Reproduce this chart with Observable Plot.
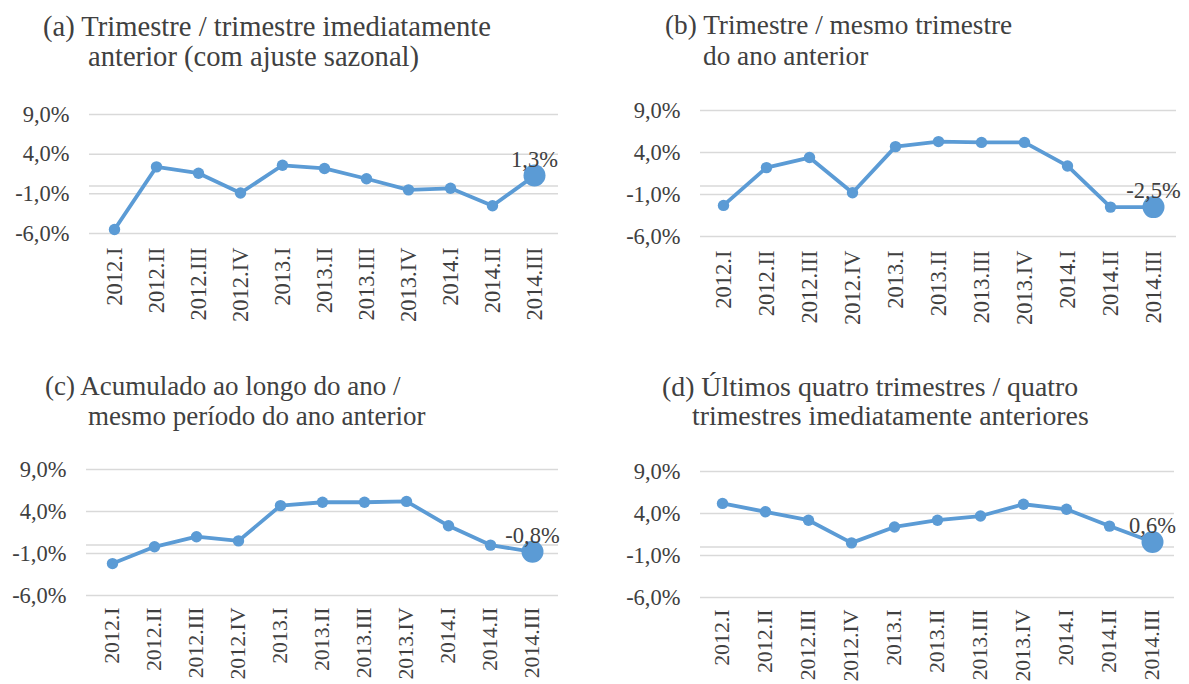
<!DOCTYPE html>
<html>
<head>
<meta charset="utf-8">
<script src="https://cdn.jsdelivr.net/npm/d3@7"></script>
<script src="https://cdn.jsdelivr.net/npm/@observablehq/plot@0.6"></script>
<style>
  html, body { margin: 0; padding: 0; background: #fff; }
  #root { position: relative; width: 1189px; height: 684px; overflow: hidden; background: #fff; }
  .panel { position: absolute; }
  .title { position: absolute; font-family: "Liberation Serif", "Times New Roman", serif; font-size: 28px; line-height: 30px; color: #404040; white-space: pre; }
</style>
</head>
<body>
<div id="root"></div>
<script>
const quarters = ["2012.I","2012.II","2012.III","2012.IV","2013.I","2013.II","2013.III","2013.IV","2014.I","2014.II","2014.III"];
const yTicks = [-6, -1, 4, 9];

const serieA = [-5.5, 2.4, 1.6, -0.9, 2.6, 2.2, 0.9, -0.5, -0.3, -2.5, 1.3];
const serieB = [-2.3, 2.2, 3.4, -0.8, 4.7, 5.3, 5.2, 5.2, 2.4, -2.5, -2.5];
const serieC = [-2.2, -0.2, 1.0, 0.5, 4.7, 5.1, 5.1, 5.2, 2.3, 0.0, -0.8];
const serieD = [5.2, 4.2, 3.2, 0.5, 2.4, 3.2, 3.7, 5.1, 4.5, 2.5, 0.6];

const titleA = ["(a) Trimestre / trimestre imediatamente", "anterior (com ajuste sazonal)"];
const titleB = ["(b) Trimestre / mesmo trimestre", "do ano anterior"];
const titleC = ["(c) Acumulado ao longo do ano /", "mesmo período do ano anterior"];
const titleD = ["(d) Últimos quatro trimestres / quatro", "trimestres imediatamente anteriores"];

const BLUE = "#5B9BD5";
const GRID = "#d9d9d9";
const FS = 22.5;
const fmt = v => v.toFixed(1).replace(".", ",") + "%";

const root = document.getElementById("root");

function addTitle(lines, pos, size) {
  lines.forEach((t, i) => {
    const d = document.createElement("div");
    d.className = "title";
    d.textContent = t;
    d.style.left = pos[i][0] + "px";
    d.style.top = pos[i][1] + "px";
    d.style.fontSize = size + "px";
    root.appendChild(d);
  });
}

function panel(values, box) {
  const data = quarters.map((q, i) => ({q, v: values[i]}));
  const last = data[data.length - 1];
  const xfs = box.xfs || FS;
  const chart = Plot.plot({
    width: box.width,
    height: box.height,
    marginLeft: box.ml,
    marginRight: box.mr,
    marginTop: box.mt,
    marginBottom: box.mb,
    style: {fontFamily: "'Liberation Serif', 'Times New Roman', serif", fontSize: FS + "px", color: "#404040", background: "transparent", overflow: "visible"},
    x: {type: "point", domain: quarters, padding: 0.5, axis: null},
    y: {domain: [-6, 9], axis: null},
    marks: [
      Plot.ruleY(yTicks, {stroke: GRID, strokeWidth: 1.5}),
      Plot.ruleY([0], {stroke: GRID, strokeWidth: 1.5}),
      Plot.axisY(yTicks, {tickSize: 0, tickPadding: 20, tickFormat: fmt, fill: "#404040", label: null, fontSize: FS}),
      Plot.axisX(quarters, {tickSize: 0, tickPadding: box.xpad || 14, tickRotate: -90, fill: "#404040", label: null, fontSize: xfs}),
      Plot.line(data, {x: "q", y: "v", stroke: BLUE, strokeWidth: 3.8}),
      Plot.dot(data.slice(0, -1), {x: "q", y: "v", r: 5.7, fill: BLUE}),
      Plot.dot([last], {x: "q", y: "v", r: 11, fill: BLUE}),
      Plot.text([last], {x: "q", y: "v", text: d => fmt(d.v), dy: -9, lineAnchor: "bottom", textAnchor: "middle", fill: "#404040", fontSize: FS})
    ]
  });
  const wrap = document.createElement("div");
  wrap.className = "panel";
  wrap.style.left = box.left + "px";
  wrap.style.top = box.top + "px";
  wrap.appendChild(chart);
  root.appendChild(wrap);
}

panel(serieA, {left: 0, top: 90, width: 590, height: 260, ml: 89, mr: 32, mt: 24, mb: 117});
panel(serieB, {left: 590, top: 90, width: 599, height: 260, ml: 110, mr: 13, mt: 20, mb: 114});
panel(serieC, {left: 0, top: 450, width: 590, height: 234, ml: 86, mr: 32, mt: 19, mb: 89, xfs: 21.8, xpad: 12});
panel(serieD, {left: 590, top: 450, width: 599, height: 234, ml: 110, mr: 15, mt: 21, mb: 87, xfs: 21.8, xpad: 12});

addTitle(titleA, [[43, 12], [88, 42]], 28.6);
addTitle(titleB, [[665, 10], [703, 41]], 27.3);
addTitle(titleC, [[45, 371], [88, 401]], 27);
addTitle(titleD, [[662, 372], [692, 401]], 27.8);
</script>
</body>
</html>
